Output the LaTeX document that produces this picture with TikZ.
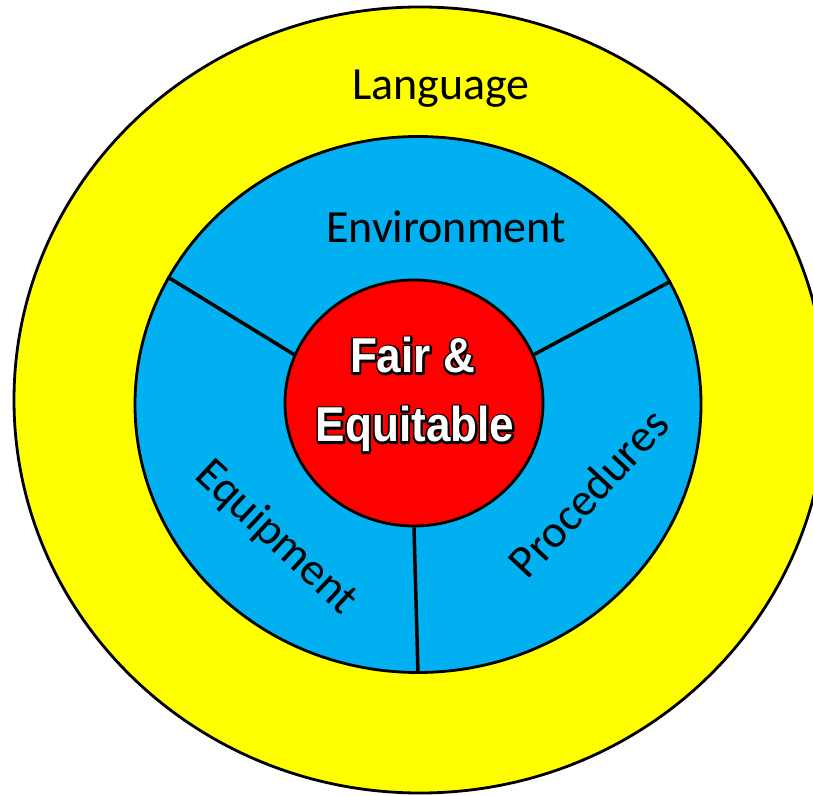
\documentclass[tikz,border=0pt]{standalone}
\usepackage{fontspec}
\setmainfont{Carlito}
\newfontfamily\fairfont[FakeStretch=0.9]{Liberation Sans}
\usetikzlibrary{shapes.geometric}
\definecolor{ringyellow}{HTML}{FFFF00}
\definecolor{ringblue}{HTML}{00B0F0}
\definecolor{corered}{HTML}{FF0000}
\newcommand\strokedtext[1]{\special{pdf:literal direct 2 Tr 4 w 1 j}#1\special{pdf:literal direct 0 Tr 1 w 0 j}}
\begin{document}
\begin{tikzpicture}[x=1pt,y=1pt,
  ring/.style={ellipse, draw=black, line width=2.8pt, inner sep=0pt},
  divider/.style={draw=black, line width=3.5pt},
  lbl/.style={font=\fontsize{46}{55}\selectfont, text=black, inner sep=0pt},
  core/.style={font=\fairfont\bfseries\fontsize{49}{58}\selectfont, inner sep=0pt, anchor=base}]
\useasboundingbox (0,0) rectangle (813,795);
\clip (0,0) rectangle (813,795);
\node[ring, fill=ringyellow, minimum width=812pt, minimum height=786pt] (outer) at (420,395) {};
\node[ring, fill=ringblue, minimum width=566pt, minimum height=536pt] (mid) at (418,390.5) {};
\node[ring, fill=corered, minimum width=258pt, minimum height=246pt] (core) at (414,392) {};
\draw[divider] (core.158) -- (mid.153.6);
\draw[divider] (core.22) -- (mid.26.4);
\draw[divider] (core.270) -- (mid.270);
\node[lbl, anchor=base] (lang) at (441,695) {Language};
\node[lbl, anchor=base] (env) at (446,552) {Environment};
\node[lbl, rotate=-43] (equip) at (276,257) {Equipment};
\node[lbl, rotate=47] (proc) at (588,302) {Procedures};
\node[core, text=black] (fairline) at (412.5,422) {\strokedtext{Fair \&}};
\node[core, text=white] (fair) at (412.5,422) {Fair \&};
\node[core, text=black] (equitline) at (415,353) {\strokedtext{Equitable}};
\node[core, text=white] (equit) at (415,353) {Equitable};
\end{tikzpicture}
\end{document}
